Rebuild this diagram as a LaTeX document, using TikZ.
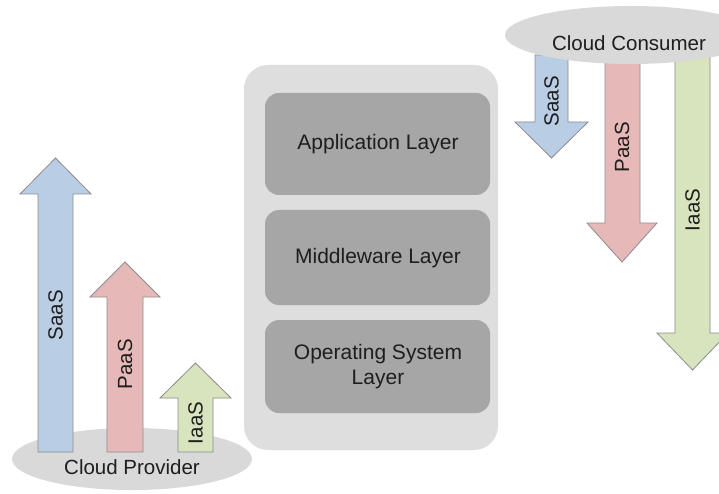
\documentclass[tikz,border=0pt]{standalone}
\usepackage{fontspec}
\setmainfont{Liberation Sans}
\usetikzlibrary{shapes.geometric}
\definecolor{cblue}{HTML}{B9CDE5}
\definecolor{cred}{HTML}{E6B9B8}
\definecolor{cgreen}{HTML}{D7E4BD}
\definecolor{cedge}{HTML}{8C8C8C}
\definecolor{couter}{HTML}{DEDEDE}
\definecolor{cinner}{HTML}{A6A6A6}
\definecolor{cell}{HTML}{D9D9D9}
\definecolor{ctext}{HTML}{1E1E1E}
\tikzset{
  arrowshape/.style={draw=cedge, line width=0.8pt, line join=miter},
  lbl/.style={text=ctext, font=\fontsize{20.5}{24}\selectfont, inner sep=0pt},
  laylbl/.style={text=ctext, font=\fontsize{21}{25}\selectfont, inner sep=0pt, align=center},
  arrlbl/.style={lbl, rotate=90},
  cloud/.style={ellipse, fill=cell, draw=none},
  layer/.style={fill=cinner, draw=none, rounded corners=14pt},
}
\begin{document}
\begin{tikzpicture}[x=1pt,y=-1pt]
\useasboundingbox (0,0) rectangle (719,494);
\fill[white] (0,0) rectangle (719,494);

% ---- Cloud Provider (left)
\node[cloud, minimum width=240pt, minimum height=62pt] (prov) at (132,459) {};
\draw[arrowshape, fill=cblue] (38,452) -- (38,194) -- (20,194) -- (55.5,158) -- (91,194) -- (73,194) -- (73,452) -- cycle;
\draw[arrowshape, fill=cred] (107,452) -- (107,297) -- (90,297) -- (125,262) -- (160,297) -- (143,297) -- (143,452) -- cycle;
\draw[arrowshape, fill=cgreen] (178,452) -- (178,398) -- (160,398) -- (195.5,363) -- (231,398) -- (213,398) -- (213,452) -- cycle;
\node[lbl] (provtxt) at (132,467) {Cloud Provider};
\node[arrlbl] (psaas) at (55.5,315) {SaaS};
\node[arrlbl] (ppaas) at (125,364) {PaaS};
\node[arrlbl] (piaas) at (195.5,423) {IaaS};

% ---- Layers (centre)
\fill[couter] (244,65) [rounded corners=24pt] rectangle (498,450);
\fill[layer] (265,93) rectangle (490,195);
\fill[layer] (265,210) rectangle (490,305);
\fill[layer] (265,320) rectangle (490,413);
\node[laylbl] (app) at (378,144) {Application Layer};
\node[laylbl] (mid) at (378,258) {Middleware Layer};
\node[laylbl] (os) at (378,367) {Operating System\\Layer};

% ---- Cloud Consumer (right)
\draw[arrowshape, fill=cblue] (535,55) -- (535,122) -- (515,122) -- (551.5,158) -- (588,122) -- (568,122) -- (568,55) -- cycle;
\draw[arrowshape, fill=cred] (605,55) -- (605,223) -- (587,223) -- (622,262) -- (657,223) -- (640,223) -- (640,55) -- cycle;
\draw[arrowshape, fill=cgreen] (675,55) -- (675,333) -- (657,333) -- (692.5,370) -- (728,333) -- (710,333) -- (710,55) -- cycle;
\node[cloud, minimum width=252pt, minimum height=58pt] (cons) at (631,35) {};
\node[lbl] (constxt) at (629,43) {Cloud Consumer};
\node[arrlbl] (csaas) at (551.5,101) {SaaS};
\node[arrlbl] (cpaas) at (622,147) {PaaS};
\node[arrlbl] (ciaas) at (692.5,210) {IaaS};
\end{tikzpicture}
\end{document}
